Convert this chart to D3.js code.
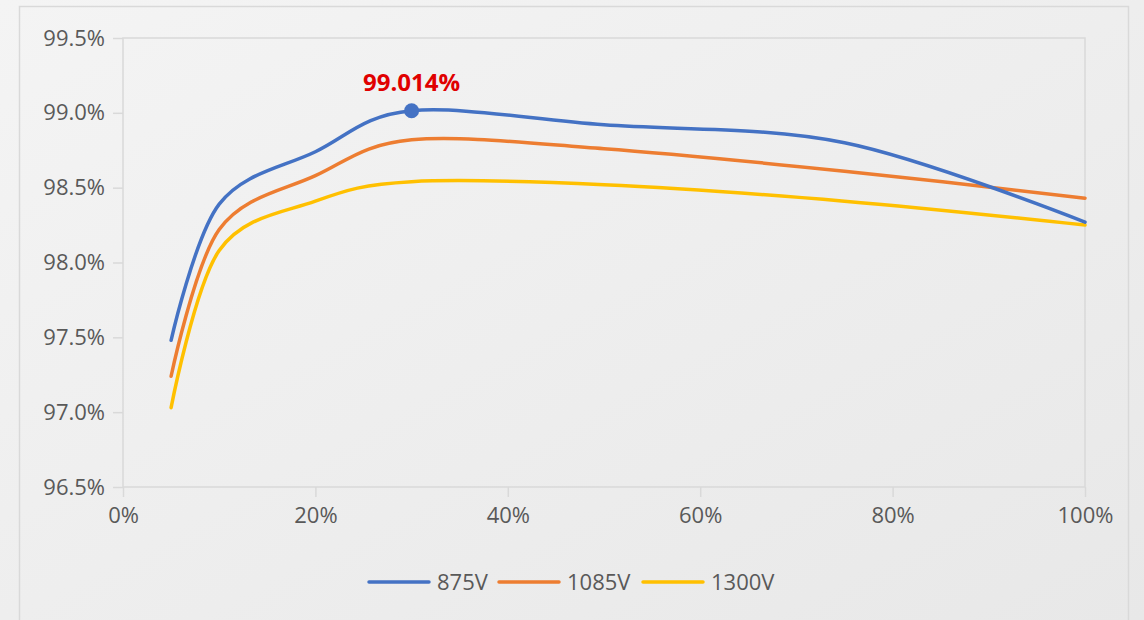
<!DOCTYPE html>
<html>
<head>
<meta charset="utf-8">
<script src="https://cdn.jsdelivr.net/npm/d3@7"></script>
<style>
  html, body { margin: 0; padding: 0; overflow: hidden; background: #efefef; }
  text { font-family: "Open Sans", "Noto Sans", sans-serif; }
</style>
</head>
<body>
<svg id="chart" width="1144" height="620"></svg>
<script>
// load points (%) and efficiency (%) per DC voltage
var loads = [5, 10, 20, 30, 50, 75, 100];
var eff875 = [97.48, 98.39, 98.74, 99.014, 98.92, 98.80, 98.27];
var eff1085 = [97.24, 98.22, 98.58, 98.82, 98.76, 98.61, 98.43];
var eff1300 = [97.03, 98.08, 98.41, 98.54, 98.52, 98.41, 98.25];
var seriesNames = ["875V", "1085V", "1300V"];
var seriesColors = ["#4472C4", "#ED7D31", "#FFC000"];
var yTicks = [96.5, 97.0, 97.5, 98.0, 98.5, 99.0, 99.5];
var xTicks = [0, 20, 40, 60, 80, 100];
var peakLoad = 30, peakValue = 99.014;

var svg = d3.select("#chart");

// background gradient
var defs = svg.append("defs");
var grad = defs.append("linearGradient")
  .attr("id", "bg").attr("x1", "0").attr("y1", "0").attr("x2", "1").attr("y2", "1");
grad.append("stop").attr("offset", "0%").attr("stop-color", "#f4f4f4");
grad.append("stop").attr("offset", "100%").attr("stop-color", "#e8e8e8");

svg.append("rect").attr("width", 1144).attr("height", 620).attr("fill", "url(#bg)");

// outer chart frame
svg.append("rect")
  .attr("x", 19.5).attr("y", 6.5).attr("width", 1109).attr("height", 640)
  .attr("fill", "none").attr("stroke", "#d9d9d9").attr("stroke-width", 1.5);

var plot = {left: 123, top: 38, right: 1085, bottom: 487};

var x = d3.scaleLinear().domain([0, 100]).range([plot.left, plot.right]);
var y = d3.scaleLinear().domain([96.5, 99.5]).range([plot.bottom, plot.top]);

var g = svg.append("g");

// plot area border
g.append("rect")
  .attr("x", plot.left).attr("y", plot.top)
  .attr("width", plot.right - plot.left).attr("height", plot.bottom - plot.top)
  .attr("fill", "none").attr("stroke", "#d9d9d9").attr("stroke-width", 1.5);

// y axis ticks + labels
var yAxis = d3.axisLeft(y).tickValues(yTicks).tickSize(10).tickPadding(8)
  .tickFormat(function(d) { return d.toFixed(1) + "%"; });
var ya = g.append("g").attr("transform", "translate(" + plot.left + ",0)").call(yAxis);
ya.select(".domain").remove();
ya.selectAll("line").attr("stroke", "#d9d9d9").attr("stroke-width", 1.5);
ya.selectAll("text").attr("fill", "#595959").style("font-size", "22px");

// x axis ticks + labels
var xAxis = d3.axisBottom(x).tickValues(xTicks).tickSize(10).tickPadding(10)
  .tickFormat(function(d) { return d + "%"; });
var xa = g.append("g").attr("transform", "translate(0," + plot.bottom + ")").call(xAxis);
xa.select(".domain").remove();
xa.selectAll("line").attr("stroke", "#d9d9d9").attr("stroke-width", 1.5);
xa.selectAll("text").attr("fill", "#595959").style("font-size", "22px");

// smoothed lines
var line = d3.line()
  .x(function(d) { return x(d[0]); })
  .y(function(d) { return y(d[1]); })
  .curve(d3.curveCatmullRom.alpha(0));

var allSeries = [eff875, eff1085, eff1300];
allSeries.slice().reverse().forEach(function(vals, ri) {
  var i = allSeries.length - 1 - ri;
  g.append("path")
    .datum(loads.map(function(l, k) { return [l, vals[k]]; }))
    .attr("d", line)
    .attr("fill", "none")
    .attr("stroke", seriesColors[i])
    .attr("stroke-width", 3.5)
    .attr("stroke-linecap", "round");
});

// peak marker and label
g.append("circle")
  .attr("cx", x(peakLoad)).attr("cy", y(peakValue)).attr("r", 7.5)
  .attr("fill", "#4472C4");
g.append("text")
  .attr("x", x(peakLoad)).attr("y", y(peakValue) - 20)
  .attr("text-anchor", "middle")
  .attr("fill", "#E00000")
  .style("font-size", "24px").style("font-weight", "bold")
  .text(peakValue.toFixed(3) + "%");

// legend
var legendX = [369, 499, 643];
var legend = svg.append("g");
seriesNames.forEach(function(name, i) {
  legend.append("line")
    .attr("x1", legendX[i]).attr("x2", legendX[i] + 60)
    .attr("y1", 582).attr("y2", 582)
    .attr("stroke", seriesColors[i]).attr("stroke-width", 3.5)
    .attr("stroke-linecap", "round");
  legend.append("text")
    .attr("x", legendX[i] + 68).attr("y", 582)
    .attr("dy", "0.35em")
    .attr("fill", "#595959")
    .style("font-size", "22px")
    .text(name);
});
</script>
</body>
</html>
